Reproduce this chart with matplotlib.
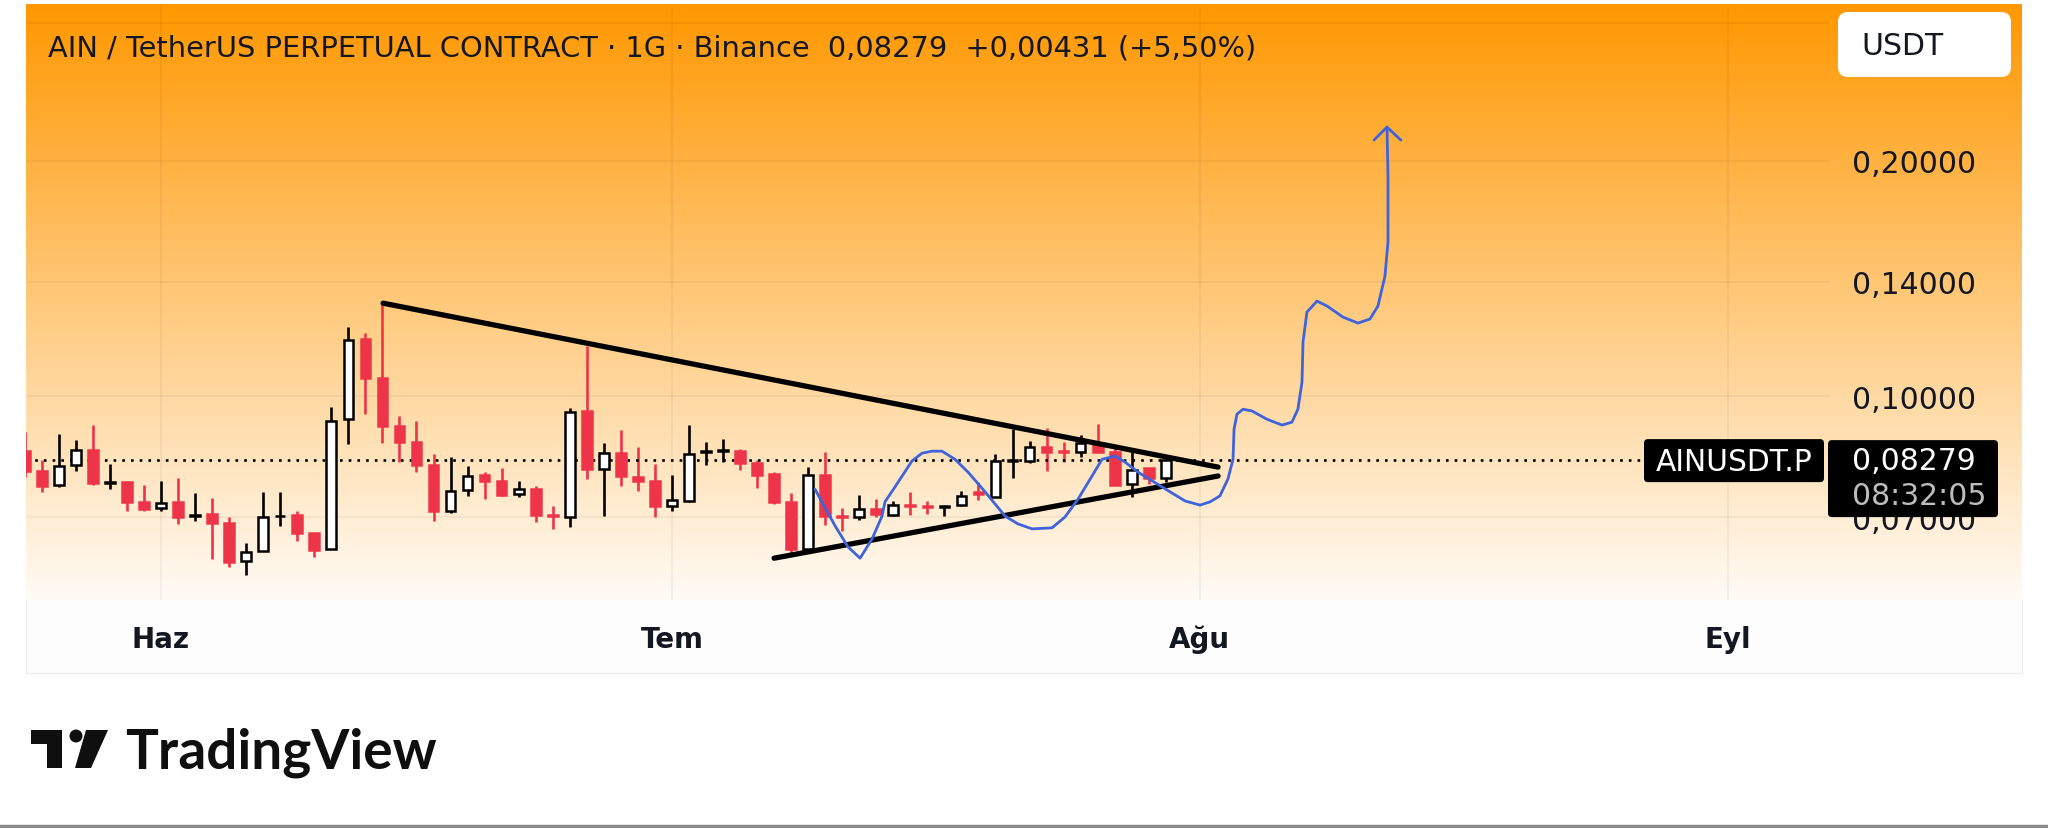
import matplotlib
matplotlib.use('Agg')
import matplotlib.pyplot as plt
import matplotlib.dates as mdates
import matplotlib.ticker as mticker
from matplotlib.patches import FancyBboxPatch, Polygon, Circle
import numpy as np
import pandas as pd

# AIN/USDT perpetual, Binance, 1D candles
dates = pd.date_range('2025-05-24', periods=68, freq='D')

opens = [0.0850, 0.0802, 0.0769, 0.0816, 0.0853, 0.0775, 0.0776, 0.0732, 0.0719, 0.0732,
         0.0702, 0.0706, 0.0688, 0.0615, 0.0633, 0.0702, 0.0704, 0.0668, 0.0637, 0.0934,
         0.1183, 0.1055, 0.0915, 0.0873, 0.0816, 0.0712, 0.0758, 0.0792, 0.0778, 0.0749,
         0.0760, 0.0704, 0.0700, 0.0957, 0.0806, 0.0845, 0.0788, 0.0778, 0.0723, 0.0734,
         0.0848, 0.0850, 0.0850, 0.0821, 0.0795, 0.0732, 0.0637, 0.0792, 0.0702, 0.0700,
         0.0717, 0.0704, 0.0725, 0.0723, 0.0721, 0.0725, 0.0754, 0.0743, 0.0826, 0.0826,
         0.0860, 0.0850, 0.0848, 0.0871, 0.0848, 0.0771, 0.0809, 0.0785]
highs = [0.0899, 0.0828, 0.0894, 0.0878, 0.0918, 0.0818, 0.0778, 0.0769, 0.0778, 0.0785,
         0.0751, 0.0740, 0.0700, 0.0648, 0.0754, 0.0754, 0.0712, 0.0668, 0.0968, 0.1226,
         0.1204, 0.1319, 0.0943, 0.0929, 0.0843, 0.0835, 0.0814, 0.0799, 0.0809, 0.0778,
         0.0767, 0.0723, 0.0965, 0.1159, 0.0871, 0.0905, 0.0860, 0.0818, 0.0792, 0.0918,
         0.0873, 0.0881, 0.0855, 0.0828, 0.0799, 0.0751, 0.0811, 0.0848, 0.0719, 0.0747,
         0.0738, 0.0734, 0.0754, 0.0734, 0.0725, 0.0756, 0.0776, 0.0843, 0.0907, 0.0876,
         0.0910, 0.0873, 0.0891, 0.0921, 0.0863, 0.0848, 0.0809, 0.0830]
lows = [0.0788, 0.0754, 0.0765, 0.0802, 0.0769, 0.0760, 0.0712, 0.0712, 0.0712, 0.0686,
        0.0692, 0.0618, 0.0604, 0.0590, 0.0633, 0.0682, 0.0652, 0.0622, 0.0637, 0.0868,
        0.0948, 0.0871, 0.0823, 0.0799, 0.0692, 0.0708, 0.0745, 0.0738, 0.0745, 0.0743,
        0.0690, 0.0676, 0.0680, 0.0783, 0.0702, 0.0767, 0.0756, 0.0700, 0.0712, 0.0732,
        0.0816, 0.0823, 0.0804, 0.0762, 0.0727, 0.0624, 0.0637, 0.0684, 0.0672, 0.0694,
        0.0700, 0.0702, 0.0704, 0.0706, 0.0702, 0.0723, 0.0736, 0.0743, 0.0785, 0.0821,
        0.0802, 0.0823, 0.0835, 0.0848, 0.0769, 0.0743, 0.0771, 0.0776]
closes = [0.0802, 0.0767, 0.0814, 0.0853, 0.0774, 0.0777, 0.0732, 0.0717, 0.0729, 0.0700,
          0.0704, 0.0688, 0.0613, 0.0631, 0.0700, 0.0703, 0.0668, 0.0635, 0.0929, 0.1180,
          0.1055, 0.0915, 0.0873, 0.0816, 0.0712, 0.0756, 0.0790, 0.0778, 0.0747, 0.0760,
          0.0704, 0.0702, 0.0954, 0.0806, 0.0845, 0.0790, 0.0778, 0.0723, 0.0736, 0.0843,
          0.0850, 0.0853, 0.0821, 0.0792, 0.0732, 0.0637, 0.0792, 0.0702, 0.0700, 0.0717,
          0.0706, 0.0725, 0.0723, 0.0721, 0.0723, 0.0745, 0.0749, 0.0826, 0.0828, 0.0860,
          0.0848, 0.0848, 0.0871, 0.0848, 0.0769, 0.0804, 0.0785, 0.08279]

# drawings, x = days after 1 June
upper_days = [13.04, 62.07]
upper_prices = [0.1315, 0.0811]
lower_days = [36.0, 62.07]
lower_prices = [0.0620, 0.0790]

blue_days = [38.40, 39.58, 40.34, 41.05, 41.75, 42.34, 42.51, 43.10, 44.10, 44.69,
             45.27, 45.86, 46.62, 47.39, 48.39, 49.56, 50.32, 51.15, 52.32, 53.08,
             53.85, 54.67, 55.26, 56.02, 56.61, 57.37, 58.78, 60.13, 61.01, 61.60,
             62.18, 62.65, 62.95, 63.01, 63.18, 63.54, 64.06, 64.94, 65.83, 66.41,
             66.76, 67.00, 67.06, 67.29, 67.88, 68.47, 69.41, 70.29, 70.99, 71.46,
             71.87, 72.05, 72.05, 71.99]
blue_prices = [0.0760, 0.0682, 0.0641, 0.0620, 0.0656, 0.0702, 0.0732, 0.0765, 0.0826, 0.0845,
               0.0850, 0.0850, 0.0830, 0.0799, 0.0754, 0.0702, 0.0686, 0.0676, 0.0678, 0.0700,
               0.0738, 0.0790, 0.0830, 0.0838, 0.0823, 0.0799, 0.0765, 0.0734, 0.0725, 0.0732,
               0.0745, 0.0783, 0.0830, 0.0907, 0.0948, 0.0962, 0.0957, 0.0934, 0.0918, 0.0926,
               0.0962, 0.1042, 0.1173, 0.1281, 0.1323, 0.1304, 0.1262, 0.1240, 0.1255, 0.1304,
               0.1424, 0.1575, 0.1913, 0.2210]
arrow_days = [71.23, 71.99, 72.81]
arrow_prices = [0.2127, 0.2210, 0.2127]

price_ticks = [0.07, 0.10, 0.14, 0.20]
grid_prices = [0.07, 0.10, 0.14, 0.20, 0.30]
month_starts = ['2025-06-01', '2025-07-01', '2025-08-01', '2025-09-01']
month_labels = ['Haz', 'Tem', 'Ağu', 'Eyl']

title = 'AIN / TetherUS PERPETUAL CONTRACT · 1G · Binance  0,08279  +0,00431 (+5,50%)'

RED = '#EE3448'
INK = '#131722'
W, H = 2048, 829

fig = plt.figure(figsize=(W / 100, H / 100), dpi=100)
fig.patch.set_facecolor('white')
rect = [26 / W, (H - 601) / H, 1996 / W, 596 / H]

# time-axis strip under the chart
tp = fig.add_axes([26 / W, (H - 674) / H, 1996 / W, 73 / H], zorder=0)
tp.set_facecolor('#FDFDFD')
tp.set_xticks([])
tp.set_yticks([])
for s in tp.spines.values():
    s.set_color('#ECECEC')
tp.spines['top'].set_visible(False)

# orange gradient behind the price pane
bg = fig.add_axes(rect, zorder=0)
grad = np.zeros((256, 1, 4))
grad[..., 0] = 1.0
grad[..., 1] = 0.596
grad[:, 0, 3] = np.linspace(1.0, 0.04, 256)
bg.imshow(grad, extent=[0, 1, 0, 1], aspect='auto')
bg.axis('off')

ax = fig.add_axes(rect, zorder=1)
ax.patch.set_alpha(0)
ax.set_yscale('log')

base = mdates.date2num(pd.Timestamp('2025-06-01'))
x = mdates.date2num(dates)
o = np.array(opens)
h = np.array(highs)
l = np.array(lows)
c = np.array(closes)
up = c >= o

# grid
months = [mdates.date2num(pd.Timestamp(m)) for m in month_starts]
for m in months:
    ax.axvline(m, color='black', alpha=0.045, lw=1.4, zorder=1)
for v in grid_prices:
    ax.axhline(v, xmin=0, xmax=0.9028, color='black', alpha=0.045, lw=1.4, zorder=1)

# candles
ax.vlines(x, l, h, colors=np.where(up, 'black', RED), lw=1.9, zorder=2)
ax.bar(x, np.abs(c - o), bottom=np.minimum(o, c), width=0.57,
       color=np.where(up, 'white', RED), edgecolor=np.where(up, 'black', RED),
       linewidth=1.8, zorder=3)

# last price line
ax.axhline(c[-1], xmin=0, xmax=0.8106, color='black', lw=1.9,
           linestyle=(0, (1, 2.3)), zorder=2)

# triangle and projected path
ax.plot(base + np.array(upper_days), upper_prices, color='black', lw=3.8,
        solid_capstyle='round', zorder=4)
ax.plot(base + np.array(lower_days), lower_prices, color='black', lw=3.8,
        solid_capstyle='round', zorder=4)
ax.plot(base + np.array(blue_days), blue_prices, color='#3D63DD', lw=2.0,
        solid_joinstyle='round', solid_capstyle='round', zorder=5)
ax.plot(base + np.array(arrow_days), arrow_prices, color='#3D63DD', lw=2.0,
        solid_joinstyle='round', solid_capstyle='round', zorder=5)

ax.set_xlim(base - 7.93, base + 109.28)
ax.set_ylim(0.05481, 0.3177)

ax.yaxis.tick_right()
ax.set_yticks(price_ticks)
ax.yaxis.set_minor_locator(mticker.NullLocator())
ax.yaxis.set_major_formatter(mticker.FuncFormatter(lambda v, p: f'{v:.5f}'.replace('.', ',')))
ax.tick_params(axis='y', length=0, pad=-122.4, labelsize=21.5, labelcolor=INK)

ax.set_xticks(months)
ax.set_xticklabels(month_labels)
ax.tick_params(axis='x', length=0, pad=18, labelsize=20, labelcolor=INK)
for lbl in ax.get_xticklabels():
    lbl.set_fontweight('bold')
for s in ax.spines.values():
    s.set_visible(False)

# overlay in pixel coordinates for the app chrome
ov = fig.add_axes([0, 0, 1, 1], zorder=10)
ov.set_xlim(0, W)
ov.set_ylim(H, 0)
ov.axis('off')
ov.patch.set_alpha(0)

ov.text(48, 48, title, fontsize=20.8, color=INK, ha='left', va='center')

ov.add_patch(FancyBboxPatch((1838, 13), 173, 65, boxstyle='round,pad=0,rounding_size=10',
                            fc='white', ec='none'))
ov.text(1861, 46, 'USDT', fontsize=21.5, color=INK, ha='left', va='center')

y_last = H - ax.transData.transform((x[-1], c[-1]))[1]
ov.add_patch(FancyBboxPatch((1644, y_last - 21), 180, 43, boxstyle='round,pad=0,rounding_size=4',
                            fc='black', ec='none'))
ov.text(1734, y_last + 1, 'AINUSDT.P', fontsize=21.4, color='white', ha='center', va='center')
ov.add_patch(FancyBboxPatch((1828, y_last - 20), 170, 77, boxstyle='round,pad=0,rounding_size=4',
                            fc='black', ec='none'))
ov.text(1852, y_last, f'{c[-1]:.5f}'.replace('.', ','), fontsize=21.5, color='white',
        ha='left', va='center')
ov.text(1852, y_last + 35, '08:32:05', fontsize=21.5, color='#BDBDBD', ha='left', va='center')

# TradingView logo
ov.add_patch(Polygon([(31, 731), (62, 731), (62, 769), (47, 769), (47, 745), (31, 745)],
                     closed=True, fc='#0F0F0F', ec='none'))
ov.add_patch(Circle((76, 737), 6.5, fc='#0F0F0F', ec='none'))
ov.add_patch(Polygon([(86, 731), (108, 731), (91, 769), (75, 769)],
                     closed=True, fc='#0F0F0F', ec='none'))
ov.text(125, 769, 'TradingView', fontsize=39.5, fontweight='bold', family='Lato',
        color='#0F0F0F', ha='left', va='baseline')

ov.plot([0, W], [827, 827], color='#8A8A8A', lw=2.5)

fig.savefig('out.png', dpi=100, facecolor='white')
